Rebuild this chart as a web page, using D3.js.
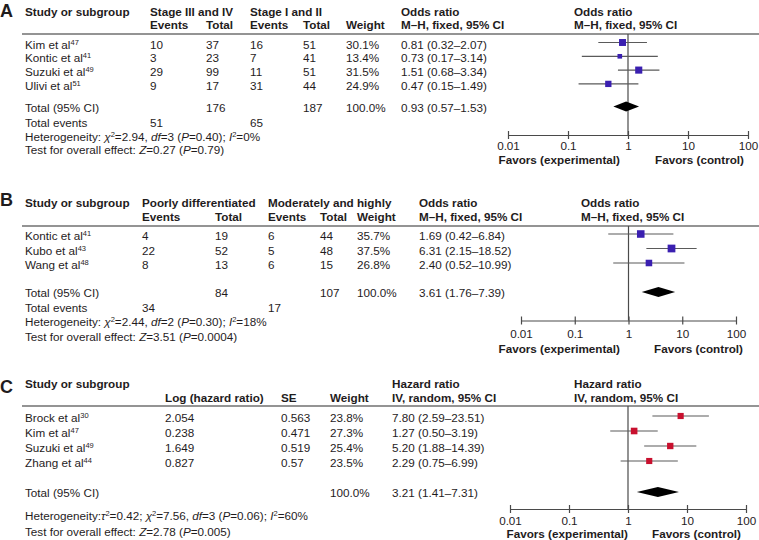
<!DOCTYPE html>
<html><head><meta charset="utf-8">
<script src="https://cdn.jsdelivr.net/npm/d3@7"></script>
<style>
body{margin:0;background:#fff}
text{font-family:"Liberation Sans",Arial,sans-serif;font-size:11.7px;fill:#1f1c1d}
</style>
</head><body>
<svg id="c" width="759" height="540"></svg>
<script>
// ---------- DATA ----------
const tickValues = [0.01, 0.1, 1, 10, 100];
const tickLabels = ["0.01", "0.1", "1", "10", "100"];
const favorsLabels = ["Favors (experimental)", "Favors (control)"];

// Panel A
const aHeader1 = ["Study or subgroup", "Stage III and IV", "Stage I and II", "Odds ratio", "Odds ratio"];
const aHeader2 = ["Events", "Total", "Events", "Total", "Weight", "M–H, fixed, 95% CI", "M–H, fixed, 95% CI"];
const aStudies = ["Kim et al", "Kontic et al", "Suzuki et al", "Ulivi et al"];
const aRefs = ["47", "41", "49", "51"];
const aEvents1 = [10, 3, 29, 9];
const aTotal1 = [37, 23, 99, 17];
const aEvents2 = [16, 7, 11, 31];
const aTotal2 = [51, 41, 51, 44];
const aWeight = [30.1, 13.4, 31.5, 24.9];
const aOR = [0.81, 0.73, 1.51, 0.47];
const aLo = [0.32, 0.17, 0.68, 0.15];
const aHi = [2.07, 3.14, 3.34, 1.49];
const aTotals = [176, 187];
const aTotalEvents = [51, 65];
const aPooled = [0.93, 0.57, 1.53];
const aHet = [["Heterogeneity: "], ["χ", "i"], ["2", "s"], ["=2.94, "], ["df", "i"], ["=3 ("], ["P", "i"], ["=0.40); "], ["I", "i"], ["2", "s"], ["=0%"]];
const aTest = [["Test for overall effect: "], ["Z", "i"], ["=0.27 ("], ["P", "i"], ["=0.79)"]];

// Panel B
const bHeader1 = ["Study or subgroup", "Poorly differentiated", "Moderately and highly", "Odds ratio", "Odds ratio"];
const bHeader2 = ["Events", "Total", "Events", "Total", "Weight", "M–H, fixed, 95% CI", "M–H, fixed, 95% CI"];
const bStudies = ["Kontic et al", "Kubo et al", "Wang et al"];
const bRefs = ["41", "43", "48"];
const bEvents1 = [4, 22, 8];
const bTotal1 = [19, 52, 13];
const bEvents2 = [6, 5, 6];
const bTotal2 = [44, 48, 15];
const bWeight = [35.7, 37.5, 26.8];
const bOR = [1.69, 6.31, 2.40];
const bLo = [0.42, 2.15, 0.52];
const bHi = [6.84, 18.52, 10.99];
const bTotals = [84, 107];
const bTotalEvents = [34, 17];
const bPooled = [3.61, 1.76, 7.39];
const bHet = [["Heterogeneity: "], ["χ", "i"], ["2", "s"], ["=2.44, "], ["df", "i"], ["=2 ("], ["P", "i"], ["=0.30); "], ["I", "i"], ["2", "s"], ["=18%"]];
const bTest = [["Test for overall effect: "], ["Z", "i"], ["=3.51 ("], ["P", "i"], ["=0.0004)"]];

// Panel C
const cHeader1 = ["Study or subgroup", "Hazard ratio", "Hazard ratio"];
const cHeader2 = ["Log (hazard ratio)", "SE", "Weight", "IV, random, 95% CI", "IV, random, 95% CI"];
const cStudies = ["Brock et al", "Kim et al", "Suzuki et al", "Zhang et al"];
const cRefs = ["30", "47", "49", "44"];
const cLogHR = ["2.054", "0.238", "1.649", "0.827"];
const cSE = ["0.563", "0.471", "0.519", "0.57"];
const cWeight = [23.8, 27.3, 25.4, 23.5];
const cHR = [7.80, 1.27, 5.20, 2.29];
const cLo = [2.59, 0.50, 1.88, 0.75];
const cHi = [23.51, 3.19, 14.39, 6.99];
const cPooled = [3.21, 1.41, 7.31];
const cHet = [["Heterogeneity:"], ["τ", "i"], ["2", "s"], ["=0.42; "], ["χ", "i"], ["2", "s"], ["=7.56, "], ["df", "i"], ["=3 ("], ["P", "i"], ["=0.06); "], ["I", "i"], ["2", "s"], ["=60%"]];
const cTest = [["Test for overall effect: "], ["Z", "i"], ["=2.78 ("], ["P", "i"], ["=0.005)"]];

// ---------- DRAWING ----------
const svg = d3.select("#c");
const f2 = d3.format(".2f");
const pct = d => d3.format(".1f")(d) + "%";
const ciText = (e, l, h) => `${f2(e)} (${f2(l)}–${f2(h)})`;
const sizeScale = d3.scaleSqrt().domain([0, 40]).range([0, 8]);

function rich(g, x, y, parts, bold) {
  const t = g.append("text").attr("x", x).attr("y", y);
  if (bold) t.attr("font-weight", "bold");
  let raised = false;
  parts.forEach(([s, st]) => {
    const ts = t.append("tspan").text(s);
    if (st === "i") ts.attr("font-style", "italic");
    if (st === "s") {
      ts.style("font-size", "7.5px");
      if (!raised) { ts.attr("dy", -4); raised = true; }
    } else if (raised) { ts.attr("dy", 4); raised = false; }
  });
  return t;
}

function drawPanel(p) {
  const g = svg.append("g");
  g.append("text").attr("x", 0).attr("y", p.labelY)
    .attr("font-weight", "bold").style("font-size", "18px").text(p.label);
  p.header1.forEach((t, i) => g.append("text").attr("x", p.h1x[i]).attr("y", p.h1y)
    .attr("font-weight", "bold").text(t));
  p.header2.forEach((t, i) => g.append("text").attr("x", p.h2x[i]).attr("y", p.h2y)
    .attr("font-weight", "bold").text(t));
  g.append("line").attr("x1", 22).attr("x2", 759).attr("y1", p.lineY).attr("y2", p.lineY)
    .attr("stroke", "#707070").attr("stroke-width", 1.4);

  const x = d3.scaleLog().domain([0.01, 100]).range(p.range);

  p.studies.forEach((s, i) => {
    const y = p.rowY[i];
    rich(g, 25, y + 4, [[s], [p.refs[i], "s"]]);
    p.cols.forEach((c, j) => g.append("text").attr("x", p.colX[j]).attr("y", y + 4).text(c[i]));
  });

  rich(g, 25, p.totalY + 4, [["Total (95% CI)"]]);
  p.totalCells.forEach(t => g.append("text").attr("x", t[0]).attr("y", p.totalY + 4).text(t[1]));
  if (p.eventsY != null) {
    rich(g, 25, p.eventsY + 4, [["Total events"]]);
    p.eventsCells.forEach(t => g.append("text").attr("x", t[0]).attr("y", p.eventsY + 4).text(t[1]));
  }
  rich(g, 25, p.hetY + 4, p.het);
  rich(g, 25, p.testY + 4, p.test);

  const x1 = x(1);
  g.append("line").attr("x1", x1).attr("x2", x1).attr("y1", p.lineY).attr("y2", p.axisY)
    .attr("stroke", "#4a4a4a").attr("stroke-width", 1.2);

  const fg = g.append("g");
  p.est.forEach((e, i) => {
    const y = p.rowY[i] - 2;
    fg.append("line").attr("x1", x(p.lo[i])).attr("x2", x(p.hi[i])).attr("y1", y).attr("y2", y)
      .attr("stroke", "#5a5a5a").attr("stroke-width", 1.2);
    const s = sizeScale(p.weight[i]);
    fg.append("rect").attr("x", x(e) - s / 2).attr("y", y - s / 2).attr("width", s).attr("height", s)
      .attr("fill", p.color);
  });
  const dy = p.totalY - 1;
  const [pe, pl, ph] = p.pooled;
  fg.append("path").attr("d", `M${x(pl)},${dy}L${x(pe)},${dy - 5}L${x(ph)},${dy}L${x(pe)},${dy + 5}Z`)
    .attr("fill", "#000");

  const ax = g.append("g").attr("transform", `translate(0,${p.axisY})`)
    .call(d3.axisBottom(x).tickValues(tickValues).tickFormat((d, i) => tickLabels[i])
      .tickSize(4).tickSizeOuter(0));
  ax.select(".domain").attr("stroke", "#4a4a4a").attr("stroke-width", 1.2);
  ax.selectAll(".tick line").attr("y1", -4).attr("y2", 4).attr("stroke", "#4a4a4a").attr("stroke-width", 1.2);
  ax.selectAll(".tick text").attr("y", p.tickDy).attr("dy", 0)
    .style("font-size", "11.7px").style("font-family", '"Liberation Sans",Arial,sans-serif').attr("fill", "#1f1c1d");

  g.append("text").attr("x", p.favX[0]).attr("y", p.favY).attr("text-anchor", "end")
    .attr("font-weight", "bold").text(favorsLabels[0]);
  g.append("text").attr("x", p.favX[1]).attr("y", p.favY).attr("text-anchor", "start")
    .attr("font-weight", "bold").text(favorsLabels[1]);
}

const blue = "#3a1fb0", red = "#c8102e";

drawPanel({
  label: "A", labelY: 16.5,
  header1: aHeader1, h1x: [25, 150, 250, 401, 574], h1y: 15.5,
  header2: aHeader2, h2x: [150, 206, 250, 303, 346, 401, 574], h2y: 29,
  lineY: 34, range: [508, 748],
  studies: aStudies, refs: aRefs, rowY: [44.5, 58.3, 72.1, 85.9],
  cols: [aEvents1, aTotal1, aEvents2, aTotal2, aWeight.map(pct), aOR.map((e, i) => ciText(e, aLo[i], aHi[i]))],
  colX: [150, 206, 250, 303, 346, 401],
  totalY: 107.5,
  totalCells: [[206, aTotals[0]], [303, aTotals[1]], [346, pct(100)], [401, ciText(...aPooled)]],
  eventsY: 122.5, eventsCells: [[150, aTotalEvents[0]], [250, aTotalEvents[1]]],
  hetY: 136.5, het: aHet, testY: 150, test: aTest,
  est: aOR, lo: aLo, hi: aHi, weight: aWeight, pooled: aPooled, color: blue,
  axisY: 135, tickDy: 15, favX: [620, 655], favY: 164
});

drawPanel({
  label: "B", labelY: 205.5,
  header1: bHeader1, h1x: [25, 142, 268, 419, 581], h1y: 206.5,
  header2: bHeader2, h2x: [142, 215, 268, 320, 357, 419, 581], h2y: 220.5,
  lineY: 226, range: [521, 736],
  studies: bStudies, refs: bRefs, rowY: [236, 250.5, 265],
  cols: [bEvents1, bTotal1, bEvents2, bTotal2, bWeight.map(pct), bOR.map((e, i) => ciText(e, bLo[i], bHi[i]))],
  colX: [142, 215, 268, 320, 357, 419],
  totalY: 293,
  totalCells: [[215, bTotals[0]], [320, bTotals[1]], [357, pct(100)], [419, ciText(...bPooled)]],
  eventsY: 307.5, eventsCells: [[142, bTotalEvents[0]], [268, bTotalEvents[1]]],
  hetY: 322, het: bHet, testY: 336.5, test: bTest,
  est: bOR, lo: bLo, hi: bHi, weight: bWeight, pooled: bPooled, color: blue,
  axisY: 320.5, tickDy: 17.5, favX: [620, 654], favY: 353
});

drawPanel({
  label: "C", labelY: 393,
  header1: cHeader1, h1x: [25, 392, 574], h1y: 388,
  header2: cHeader2, h2x: [165, 281, 330, 392, 574], h2y: 402,
  lineY: 406, range: [510, 746],
  studies: cStudies, refs: cRefs, rowY: [418, 433, 448, 463],
  cols: [cLogHR, cSE, cWeight.map(pct), cHR.map((e, i) => ciText(e, cLo[i], cHi[i]))],
  colX: [165, 281, 330, 392],
  totalY: 493,
  totalCells: [[330, pct(100)], [392, ciText(...cPooled)]],
  eventsY: null,
  hetY: 516, het: cHet, testY: 532, test: cTest,
  est: cHR, lo: cLo, hi: cHi, weight: cWeight, pooled: cPooled, color: red,
  axisY: 509, tickDy: 16, favX: [628, 652], favY: 538
});
</script>
</body></html>
